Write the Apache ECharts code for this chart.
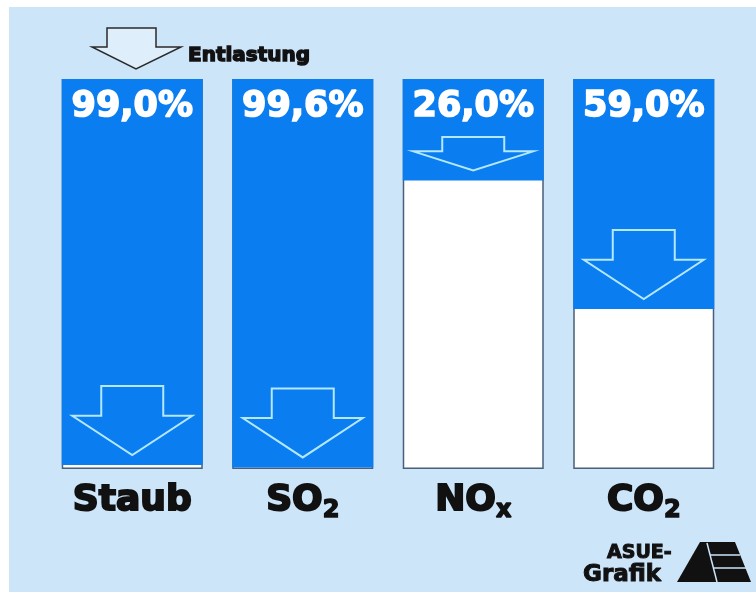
<!DOCTYPE html>
<html><head><meta charset="utf-8">
<script src="https://cdn.jsdelivr.net/npm/echarts@6/dist/echarts.min.js"></script>
<style>html,body{margin:0;padding:0;background:#fff}#c{width:756px;height:592px}</style>
</head><body><div id="c"></div>
<script>
// ---- data ----
const categories = ['Staub', 'SO2', 'NOx', 'CO2'];
const categoryMain = ['Staub', 'SO', 'NO', 'CO'];
const categorySub = ['', '2', 'x', '2'];
const reduction = [99.0, 99.6, 26.0, 59.0];   // Entlastung in %
const fullScale = [100, 100, 100, 100];
const legendText = 'Entlastung';
const logoLines = ['ASUE-', 'Grafik'];

const FONT = 'DejaVu Sans';
const BLUE = '#0a7df1';
const ARROW = '#b3e8ff';

const chart = echarts.init(document.getElementById('c'), null, {renderer: 'canvas'});

const fmtPct = v => v.toFixed(1).replace('.', ',') + '%';

const option = {
  animation: false,
  grid: {left: 47, right: 27, top: 79, bottom: 123},
  xAxis: {
    type: 'category',
    data: categories,
    axisLine: {show: false},
    axisTick: {show: false},
    splitLine: {show: false},
    axisLabel: {
      margin: 10,
      interval: 0,
      formatter: (val) => {
        const i = categories.indexOf(val);
        return '{base|' + categoryMain[i] + '}' + (categorySub[i] ? '{sub|' + categorySub[i] + '}' : '');
      },
      rich: {
        base: {fontSize: 36, fontWeight: 'bold', fontFamily: FONT, color: '#111', lineHeight: 44,
               textBorderColor: '#111', textBorderWidth: 2},
        sub: {fontSize: 24, fontWeight: 'bold', fontFamily: FONT, color: '#111', lineHeight: 22,
              verticalAlign: 'bottom', textBorderColor: '#111', textBorderWidth: 1.5}
      }
    }
  },
  yAxis: {
    type: 'value', min: 0, max: 100, inverse: true, show: false,
    splitLine: {show: false}
  },
  graphic: [
    {type: 'rect', z: -100, silent: true,
     shape: {x: 9, y: 7, width: 747, height: 585},
     style: {fill: '#cde5f9'}},
    {type: 'polygon', z: 10, silent: true,
     shape: {points: [[107, 28], [156, 28], [156, 47], [181, 47], [136, 69], [92, 47], [107, 47]]},
     style: {fill: 'rgba(255,255,255,0.35)', stroke: '#2a2a2a', lineWidth: 1.5}},
    {type: 'text', z: 10, silent: true, x: 188, y: 56,
     style: {text: legendText, font: 'bold 20px "DejaVu Sans"', fill: '#111',
             stroke: '#111', lineWidth: 1.4, verticalAlign: 'middle', align: 'left'}},
    {type: 'text', z: 10, silent: true, x: 607, y: 553,
     style: {text: logoLines[0], font: 'bold 19px "DejaVu Sans"', fill: '#111',
             stroke: '#111', lineWidth: 1, verticalAlign: 'middle', align: 'left'}},
    {type: 'text', z: 10, silent: true, x: 583, y: 575,
     style: {text: logoLines[1], font: 'bold 23px "DejaVu Sans"', fill: '#111',
             stroke: '#111', lineWidth: 1, verticalAlign: 'middle', align: 'left'}},
    {type: 'polygon', z: 10, silent: true,
     shape: {points: [[677, 582], [700, 542], [735, 542], [751, 582]]},
     style: {fill: '#111'}},
    {type: 'polyline', z: 11, silent: true,
     shape: {points: [[707, 543], [717, 582]]},
     style: {stroke: '#cde5f9', lineWidth: 1.5, fill: 'none'}},
    {type: 'polyline', z: 11, silent: true,
     shape: {points: [[710, 555], [740, 555]]},
     style: {stroke: '#cde5f9', lineWidth: 1.5, fill: 'none'}},
    {type: 'polyline', z: 11, silent: true,
     shape: {points: [[714, 568], [746, 568]]},
     style: {stroke: '#cde5f9', lineWidth: 1.5, fill: 'none'}}
  ],
  series: [
    {
      type: 'bar', name: 'Basis', data: fullScale, barWidth: 141, barGap: '-100%',
      silent: true, z: 2,
      itemStyle: {color: '#ffffff', borderColor: '#4a5f78', borderWidth: 1.5}
    },
    {
      type: 'bar', name: legendText, data: reduction, barWidth: 141, barGap: '-100%',
      silent: true, z: 3,
      itemStyle: {color: BLUE},
      label: {
        show: true, position: 'insideTop', distance: 10,
        formatter: p => fmtPct(p.value),
        color: '#fff', fontSize: 35, fontWeight: 'bold', fontFamily: FONT,
        textBorderColor: '#fff', textBorderWidth: 1.6
      }
    },
    {
      type: 'custom', name: 'Pfeile', silent: true, z: 5,
      data: reduction.map((v, i) => [i, v]),
      renderItem: (params, api) => {
        const top0 = api.coord([api.value(0), 0]);
        const end = api.coord([api.value(0), api.value(1)]);
        const cx = end[0];
        const tip = end[1] - 10;
        const top = Math.max(tip - 69, top0[1] + 58);
        const h = tip - top;
        const sh = top + h * 0.43;
        const hw = 60, sw = 31;
        return {
          type: 'polygon',
          shape: {points: [[cx - sw, top], [cx + sw, top], [cx + sw, sh], [cx + hw, sh], [cx, tip], [cx - hw, sh], [cx - sw, sh]]},
          style: {fill: 'none', stroke: ARROW, lineWidth: 2}
        };
      }
    }
  ]
};
chart.setOption(option);
</script>
</body></html>
